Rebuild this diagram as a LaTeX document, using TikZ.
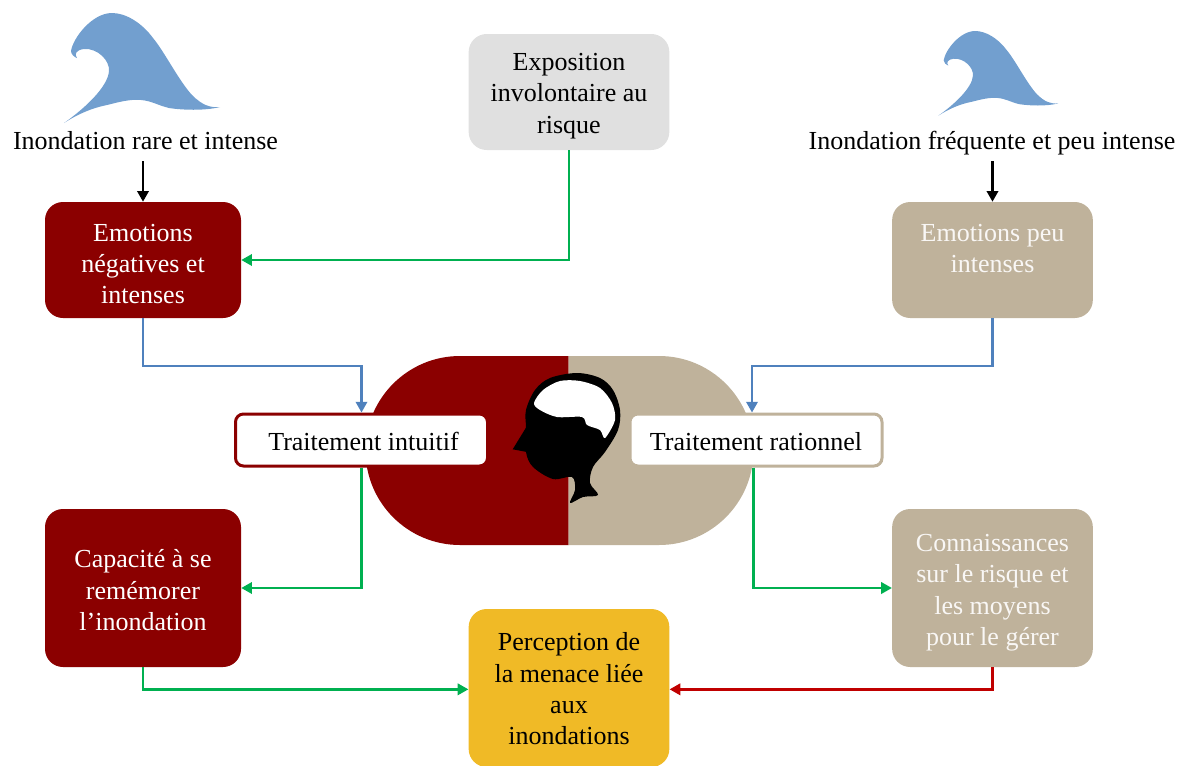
\documentclass[tikz,border=0pt]{standalone}
\usepackage{fontspec}
\setmainfont{Liberation Serif}
\usepackage{tikz}
\usetikzlibrary{arrows.meta}

\definecolor{darkred}{RGB}{139,0,0}
\definecolor{sand}{RGB}{191,178,155}
\definecolor{paleGrey}{RGB}{224,224,224}
\definecolor{amber}{RGB}{240,186,38}
\definecolor{waveBlue}{RGB}{114,159,207}
\definecolor{linkBlue}{RGB}{79,129,189}
\definecolor{linkGreen}{RGB}{0,176,80}
\definecolor{linkRed}{RGB}{192,0,0}

\newcommand{\lead}[1]{\rule{0pt}{#1}}

\tikzset{
    label text/.style={font=\fontsize{19.5}{23.5}\selectfont},
    caption/.style={label text,inner sep=0pt,text height=16.5pt,text depth=4.5pt,minimum height=30pt},
    box/.style={label text,rounded corners=13.5pt,inner sep=0pt,align=center,minimum width=147pt},
    wide/.style={minimum width=150.5pt},
    shortbox/.style={box,minimum height=87pt},
    tallbox/.style={box,minimum height=118.5pt},
    mode/.style={label text,rounded corners=6pt,fill=white,line width=2.25pt,inner sep=0pt,text height=19.5pt,text depth=4pt,minimum width=189pt,minimum height=39pt},
    link/.style={line width=1.75pt,-{Triangle[length=8pt,width=8.5pt]}},
    wave/.pic={
        \fill [waveBlue] (0,0) .. controls (14,-9) and (28,-15) .. (43,-18)
            .. controls (55,-21) and (66,-24) .. (77,-23)
            .. controls (88,-22) and (93,-18) .. (105,-15)
            .. controls (118,-13) and (140,-12) .. (156,-16)
            .. controls (146,-15) and (138,-18) .. (128,-28)
            .. controls (115,-42) and (100,-72) .. (89,-85)
            .. controls (78,-100) and (62,-110) .. (48,-110)
            .. controls (28,-110) and (9,-85) .. (7,-72)
            .. controls (7,-69) and (10,-66) .. (13,-65)
            .. controls (10,-69) and (12,-73) .. (20,-74)
            .. controls (34,-75) and (46,-62) .. (45,-52)
            .. controls (44,-36) and (20,-14) .. (0,0) -- cycle;
    }
}

\begin{document}
\begin{tikzpicture}[x=0.75pt,y=0.75pt,yscale=-1,xscale=1]
    \useasboundingbox (0,0) rectangle (1183,765);

    %Waves
    \pic [yscale=-1] at (64,123) {wave};
    \pic [xscale=0.77,yscale=-0.77] at (938.3,115.7) {wave};

    %Pill, two halves
    \fill [darkred] (568.5,356) -- (460,356) arc [start angle=270,end angle=90,radius=94.5] -- (568.5,545) -- cycle;
    \fill [sand] (568.5,356) -- (659,356) arc [start angle=-90,end angle=90,radius=94.5] -- (568.5,545) -- cycle;

    %Head
    \fill [black] plot [smooth cycle,tension=0.55] coordinates {(526,428) (526,410) (535,390) (550,378) (577,373) (600,378) (613,390) (620,410) (618,430) (605,452) (593,467) (590,483) (598,495) (583,497) (570,503) (575,490) (572,477) (553,479) (533,467) (526,452)};
    \fill [black] (512.7,449.3) -- (527,426) -- (527,452) -- cycle;
    \fill [white] plot [smooth cycle,tension=0.5] coordinates {(534,403) (543,390) (560,381) (580,381) (600,388) (612,403) (615,420) (605,438) (600,430) (587,425) (582,417) (557,417) (540,410)};

    %Text nodes
    \node [caption] (rare) at (145.5,141) {Inondation rare et intense};
    \node [caption] (frequent) at (992,141) {Inondation fréquente et peu intense};

    %Boxes
    \node [shortbox,wide,fill=paleGrey] (exposure) at (569,92) {\lead{19pt}Exposition\\involontaire au\\risque};
    \node [shortbox,fill=darkred,text=white] (strong) at (143,260) {\lead{19pt}Emotions\\négatives et\\intenses};
    \node [shortbox,wide,fill=sand,text=white!90!sand] (weak) at (992.5,260) {\lead{19pt}Emotions peu\\intenses\\};
    \node [tallbox,fill=darkred,text=white] (memory) at (143,588) {\lead{17pt}Capacité à se\\remémorer\\l’inondation};
    \node [tallbox,wide,fill=sand,text=white!90!sand] (knowledge) at (992.5,588) {\lead{20pt}Connaissances\\sur le risque et\\les moyens\\pour le gérer};
    \node [tallbox,wide,fill=amber] (threat) at (569,688) {\lead{15pt}Perception de\\la menace liée\\aux\\inondations};
    \node [mode,draw=darkred] (intuitive) at (361.5,440) {\hspace*{3pt}Traitement intuitif};
    \node [mode,draw=sand] (rational) at (756,440) {Traitement rationnel};

    %Arrows
    \draw [link,black] (rare.south -| strong.north) -- (strong.north);
    \draw [link,black] (frequent.south -| weak.north) -- (weak.north);
    \draw [link,linkGreen] (exposure.south) |- (strong.east);
    \draw [link,linkBlue] (strong.south) -- ++(0,48) -| (intuitive.north);
    \draw [link,linkBlue] (weak.south) -- ++(0,48) -| ([xshift=-3]rational.north);
    \draw [link,linkGreen] (intuitive.south) |- (memory.east);
    \draw [link,linkGreen] ([xshift=-2]rational.south) |- (knowledge.west);
    \draw [link,linkGreen] (memory.south) |- ([yshift=1]threat.west);
    \draw [link,linkRed] (knowledge.south) |- ([yshift=1]threat.east);
\end{tikzpicture}
\end{document}
